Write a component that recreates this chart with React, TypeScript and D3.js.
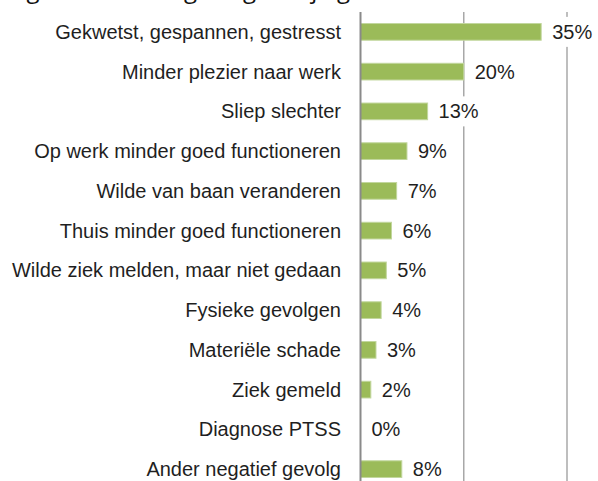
import React, { useEffect, useRef } from 'react';
import * as d3 from 'd3';

const categories = [
  'Gekwetst, gespannen, gestresst',
  'Minder plezier naar werk',
  'Sliep slechter',
  'Op werk minder goed functioneren',
  'Wilde van baan veranderen',
  'Thuis minder goed functioneren',
  'Wilde ziek melden, maar niet gedaan',
  'Fysieke gevolgen',
  'Materiële schade',
  'Ziek gemeld',
  'Diagnose PTSS',
  'Ander negatief gevolg',
];
const values = [35, 20, 13, 9, 7, 6, 5, 4, 3, 2, 0, 8];
const gridTicks = [0, 20, 40];
const titleText = 'Figuur: ervaren gevolgen bij agressie';

const App = () => {
  const ref = useRef<SVGSVGElement | null>(null);

  useEffect(() => {
    if (!ref.current) return;
    const svg = d3.select(ref.current);
    svg.selectAll('*').remove();

    const width = 598;
    const height = 481;
    const font = "'Liberation Sans', Arial, sans-serif";

    const x = d3.scaleLinear().domain([0, 40]).range([360.5, 567]);
    const y = d3.scaleBand<string>()
      .domain(categories)
      .range([12, 489])
      .paddingInner(0.58)
      .paddingOuter(0.29);

    // clipped title line above the chart
    svg.append('text')
      .attr('x', 8)
      .attr('y', -2)
      .style('font-family', "'Open Sans', sans-serif")
      .style('font-size', '24px')
      .style('fill', '#111')
      .text(titleText);

    // gridlines
    svg.selectAll('.grid')
      .data(gridTicks.filter(d => d > 0))
      .enter()
      .append('line')
      .attr('x1', d => x(d))
      .attr('x2', d => x(d))
      .attr('y1', 12)
      .attr('y2', height)
      .attr('stroke', '#a8a8a8')
      .attr('stroke-width', 1.5);

    // bars
    svg.selectAll('.bar')
      .data(values)
      .enter()
      .append('rect')
      .attr('x', x(0))
      .attr('y', (d, i) => y(categories[i])!)
      .attr('width', d => x(d) - x(0))
      .attr('height', y.bandwidth())
      .attr('fill', '#9bbb59')
      .attr('stroke', d => (d > 0 ? '#c2d79e' : 'none'))
      .attr('stroke-width', 1);

    // axis line
    svg.append('line')
      .attr('x1', x(0))
      .attr('x2', x(0))
      .attr('y1', 12)
      .attr('y2', height)
      .attr('stroke', '#8a8a8a')
      .attr('stroke-width', 2);

    // category labels
    svg.selectAll('.cat')
      .data(categories)
      .enter()
      .append('text')
      .attr('x', 341)
      .attr('y', d => y(d)! + y.bandwidth() / 2)
      .attr('text-anchor', 'end')
      .attr('dominant-baseline', 'central')
      .style('font-family', font)
      .style('font-size', '20px')
      .style('fill', '#1f1f1f')
      .text(d => d);

    // value labels with white box
    const lab = svg.selectAll('.val')
      .data(values)
      .enter()
      .append('g')
      .attr('transform', (d, i) => `translate(${x(d) + 11},${y(categories[i])! + y.bandwidth() / 2})`);
    lab.append('rect')
      .attr('x', -3)
      .attr('y', -15)
      .attr('width', d => (d >= 10 ? 46 : 35))
      .attr('height', 30)
      .attr('fill', '#fff');
    lab.append('text')
      .attr('dominant-baseline', 'central')
      .style('font-family', font)
      .style('font-size', '20px')
      .style('fill', '#1f1f1f')
      .text(d => `${d}%`);
  }, []);

  return (
    <svg
      ref={ref}
      width={598}
      height={481}
      style={{ position: 'absolute', left: 0, top: 0, background: '#fff' }}
    />
  );
};

export default App;
